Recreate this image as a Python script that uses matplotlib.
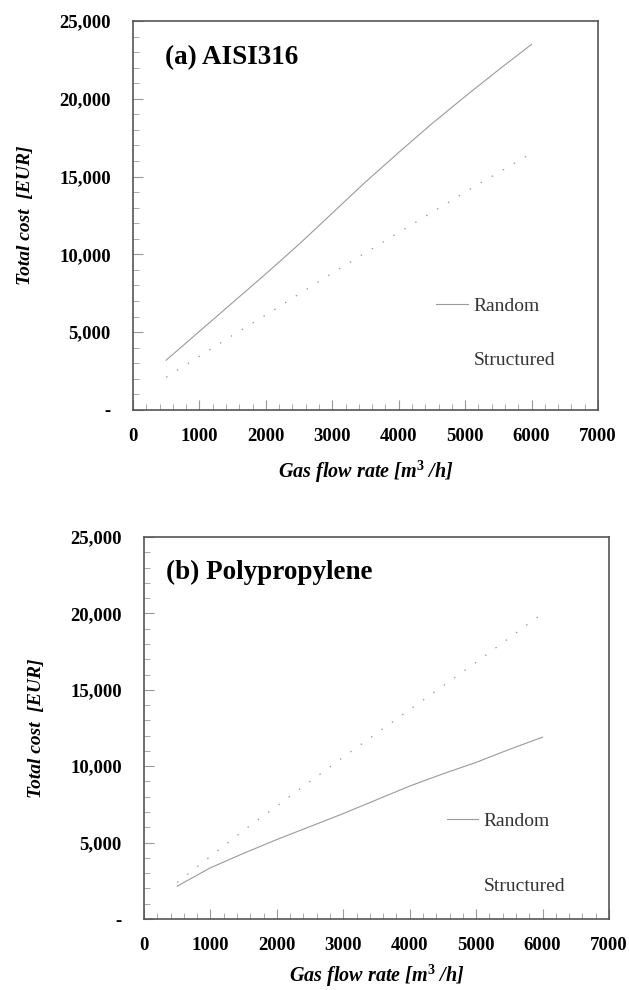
import matplotlib
matplotlib.use("Agg")
import matplotlib.pyplot as plt
from matplotlib.ticker import FuncFormatter, MultipleLocator

plt.rcParams['font.family'] = ['Liberation Serif', 'DejaVu Serif']
plt.rcParams['mathtext.fontset'] = 'custom'
plt.rcParams['mathtext.it'] = 'Liberation Serif:italic:bold'
plt.rcParams['mathtext.rm'] = 'Liberation Serif:bold'

# Gas flow rate [m3/h]
flow = [500, 1000, 1500, 2000, 2500, 3000, 3500, 4000, 4500, 5000, 5500, 6000]

# (a) AISI316 total cost [EUR]
aisi_random = [3200, 5050, 6900, 8750, 10650, 12650, 14650, 16550, 18400, 20150, 21850, 23500]
aisi_structured = [2100, 3450, 4800, 6100, 7450, 8800, 10100, 11400, 12700, 14000, 15250, 16500]

# (b) Polypropylene total cost [EUR]
pp_random = [2150, 3350, 4300, 5200, 6050, 6900, 7800, 8700, 9500, 10250, 11100, 11900]
pp_structured = [2400, 4100, 5800, 7400, 9000, 10600, 12150, 13700, 15250, 16800, 18400, 20000]

panels = [("(a) AISI316", aisi_random, aisi_structured),
          ("(b) Polypropylene", pp_random, pp_structured)]

fig = plt.figure(figsize=(6.29, 9.9), dpi=100)
positions = [[0.2114, 0.5859, 0.7393, 0.3929],
             [0.2289, 0.0717, 0.7393, 0.3859]]
title_x = [0.069, 0.047]
legend_pos = [(0.615, 0.335), (0.613, 0.325)]
legend_space = [1.9, 2.45]
xlabel_pad = [10, 6]

def cost_fmt(v, pos):
    if abs(v) < 1:
        return "-"
    return "{:,}".format(int(v))

for i, (title, rnd, strc) in enumerate(panels):
    ax = fig.add_axes(positions[i])
    ax.plot(flow, rnd, color='#9a9a9a', lw=0.8, label='Random')
    ax.plot(flow, strc, color='#9a9a9a', lw=0.9, ls=(0, (1.2, 9)), label='Structured')

    ax.set_xlim(0, 7000)
    ax.set_ylim(0, 25000)
    ax.xaxis.set_major_locator(MultipleLocator(1000))
    ax.xaxis.set_minor_locator(MultipleLocator(200))
    ax.yaxis.set_major_locator(MultipleLocator(5000))
    ax.yaxis.set_minor_locator(MultipleLocator(1000))
    ax.yaxis.set_major_formatter(FuncFormatter(cost_fmt))

    ax.tick_params(axis='both', which='both', direction='in', color='#9a9a9a',
                   top=False, right=False)
    ax.tick_params(axis='both', which='major', length=7, width=0.8)
    ax.tick_params(axis='both', which='minor', length=4, width=0.6)
    ax.tick_params(axis='x', which='major', pad=13, labelsize=13.5)
    ax.tick_params(axis='y', which='major', pad=16, labelsize=13.5)
    for lab in ax.get_xticklabels() + ax.get_yticklabels():
        lab.set_fontweight('bold')

    for sp in ax.spines.values():
        sp.set_color('#555555')
        sp.set_linewidth(1.2)

    ax.set_xlabel("Gas flow rate [m$^{3}$ /h]", fontsize=14.5, fontweight='bold',
                  style='italic', labelpad=xlabel_pad[i])
    ax.set_ylabel("Total cost  [EUR]", fontsize=14, fontweight='bold',
                  style='italic', labelpad=18)

    ax.text(title_x[i], 0.907, title, transform=ax.transAxes, fontsize=19.5,
            fontweight='bold', va='center', ha='left')

    leg = ax.legend(loc='upper left', bbox_to_anchor=legend_pos[i], frameon=False,
                    fontsize=14, handlelength=1.6, handletextpad=0.3,
                    labelspacing=legend_space[i])
    for t in leg.get_texts():
        t.set_color('#333333')
    # the sparse dotted handle does not show in the original legend
    leg.get_lines()[1].set_visible(False)

fig.savefig("out.png", dpi=100)
